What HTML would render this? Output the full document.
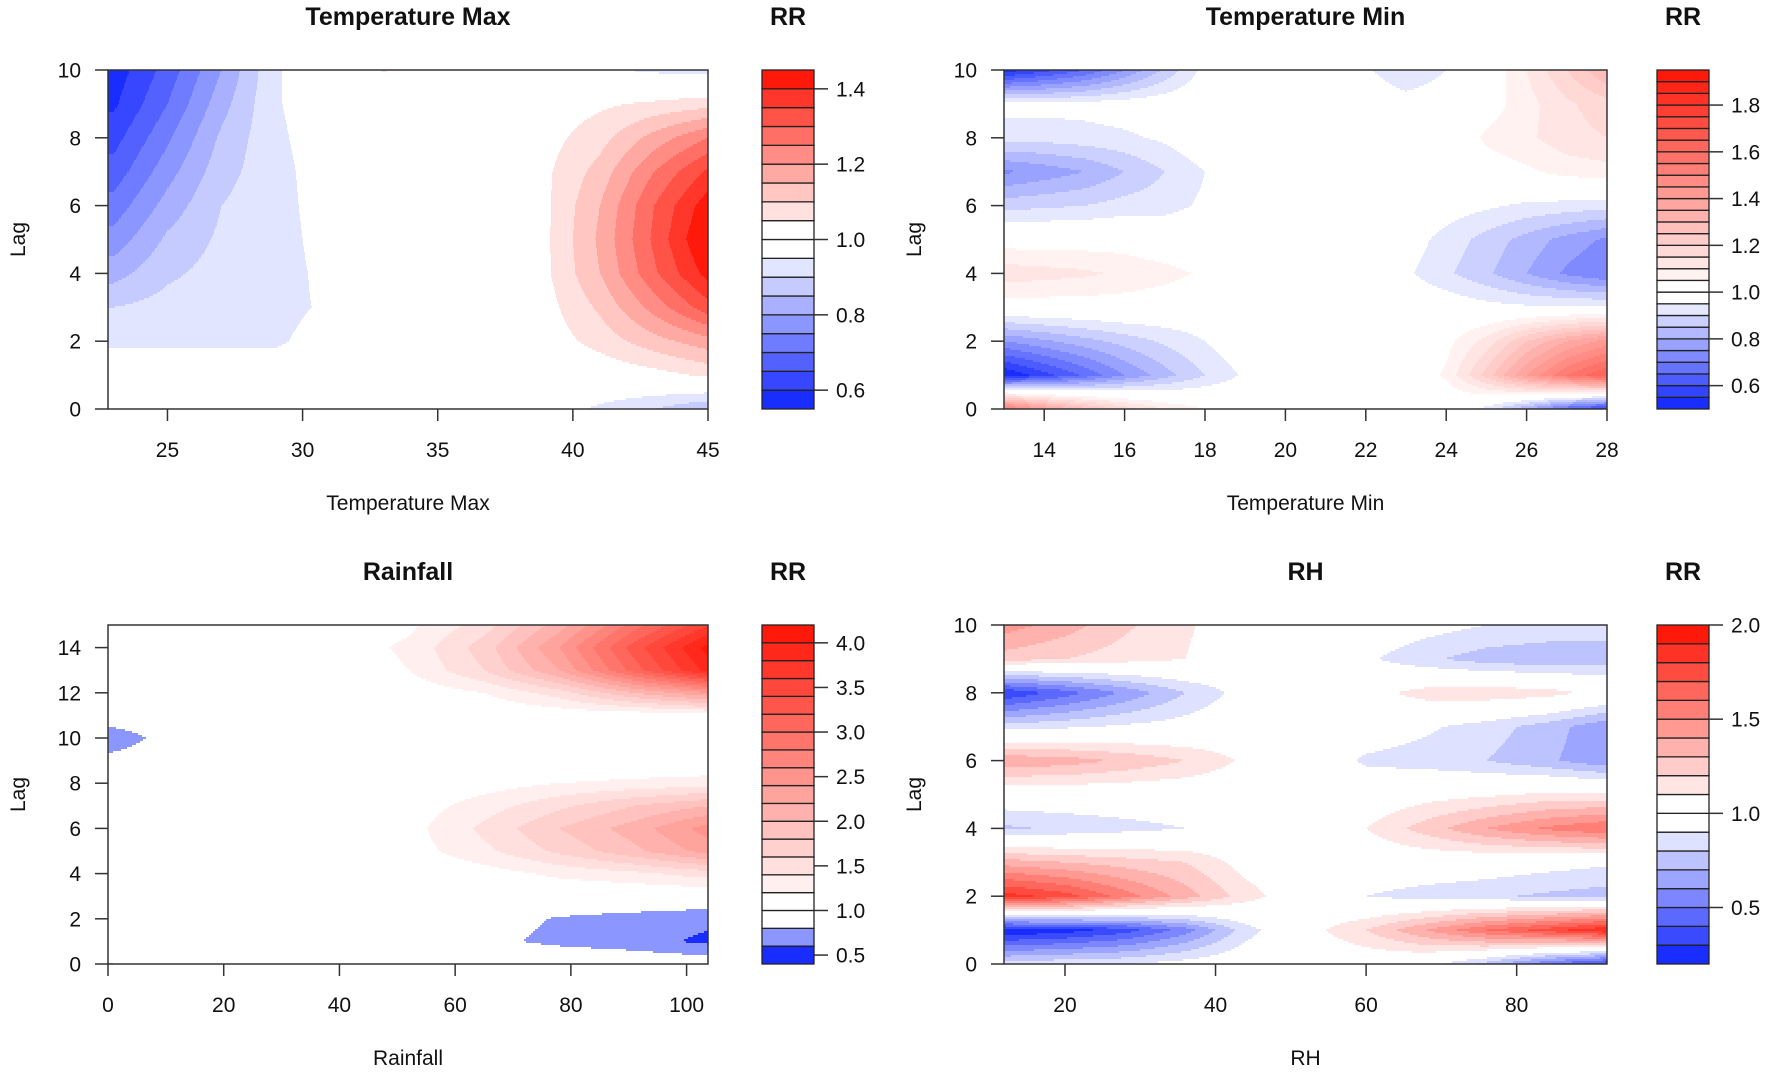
<!DOCTYPE html>
<html><head><meta charset="utf-8">
<style>
html,body{margin:0;padding:0;background:#fff;}
svg{display:block;font-family:"Liberation Sans",Arial,sans-serif;}
</style></head>
<body>
<svg id="chart" width="1772" height="1072" viewBox="0 0 1772 1072" xmlns="http://www.w3.org/2000/svg"></svg>
<script>
// ---------- DATA ----------
const tmaxX = [23,25,27,29,31,33,35,37,39,41,43,45];
const tmaxLag = [0,1,2,3,4,5,6,7,8,9,10];
const tmaxRR = [
 [1.0,1.0,1.0,1.0,1.0,1.0,1.0,1.0,0.98,0.94,0.90,0.85],
 [0.97,0.97,0.97,0.97,0.98,1.0,1.0,1.0,1.0,1.01,1.03,1.06],
 [0.945,0.945,0.945,0.945,0.965,1.0,1.0,1.0,1.02,1.07,1.13,1.18],
 [0.90,0.92,0.93,0.94,0.955,1.0,1.0,1.0,1.03,1.11,1.22,1.33],
 [0.83,0.89,0.92,0.935,0.96,1.0,1.0,1.0,1.04,1.15,1.29,1.42],
 [0.77,0.86,0.91,0.935,0.965,1.0,1.0,1.0,1.04,1.16,1.31,1.46],
 [0.72,0.82,0.90,0.935,0.97,1.0,1.0,1.0,1.04,1.15,1.30,1.43],
 [0.67,0.78,0.88,0.935,0.975,1.0,1.0,1.0,1.04,1.12,1.25,1.36],
 [0.63,0.74,0.86,0.94,0.98,1.0,1.0,1.0,1.03,1.08,1.17,1.25],
 [0.59,0.70,0.83,0.945,0.985,1.0,1.0,1.0,1.02,1.04,1.06,1.08],
 [0.57,0.67,0.80,0.945,0.99,1.055,1.0,1.0,0.99,0.96,0.94,0.93]
];
const tmaxLevels = [0.55,0.6,0.65,0.7,0.75,0.8,0.85,0.9,0.95,1.0,1.05,1.1,1.15,1.2,1.25,1.3,1.35,1.4,1.45];
const tmaxTicksX = [25,30,35,40,45];
const tmaxTicksY = [0,2,4,6,8,10];
const tmaxCbTicks = [0.6,0.8,1.0,1.2,1.4];

const tminX = [13,14,15,16,17,18,19,20,21,22,23,24,25,26,27,28];
const tminLag = [0,1,2,3,4,5,6,7,8,9,10];
const tminRR = [
 [1.55,1.40,1.28,1.18,1.10,1.05,1.02,1.0,1.0,1.0,1.0,0.99,0.93,0.80,0.65,0.55],
 [0.50,0.58,0.66,0.75,0.83,0.90,0.96,1.0,1.0,1.0,1.0,1.06,1.22,1.40,1.55,1.65],
 [0.75,0.79,0.83,0.87,0.91,0.95,1.0,1.0,1.0,1.0,1.0,1.03,1.12,1.25,1.35,1.42],
 [1.02,1.02,1.02,1.02,1.01,1.0,1.0,1.0,1.0,1.0,1.0,0.99,0.97,0.96,0.96,0.96],
 [1.13,1.12,1.11,1.09,1.07,1.04,1.0,1.0,1.0,1.0,0.96,0.91,0.86,0.80,0.74,0.70],
 [1.02,1.02,1.02,1.02,1.0,1.0,1.0,1.0,1.0,1.0,0.98,0.93,0.88,0.83,0.78,0.74],
 [0.88,0.89,0.90,0.92,0.93,0.96,1.0,1.0,1.0,1.0,1.0,0.98,0.96,0.94,0.93,0.92],
 [0.74,0.77,0.80,0.85,0.90,0.95,1.0,1.0,1.0,1.0,1.0,1.0,1.02,1.04,1.07,1.08],
 [0.92,0.92,0.93,0.94,0.96,1.0,1.0,1.0,1.0,1.0,1.0,1.0,1.06,1.09,1.13,1.15],
 [0.97,0.97,0.97,0.98,0.99,1.0,1.0,1.0,1.0,1.0,0.98,0.99,1.02,1.08,1.14,1.18],
 [0.52,0.58,0.65,0.75,0.86,0.97,1.0,1.0,1.0,0.96,0.90,0.95,1.0,1.1,1.2,1.3]
];
const tminLevels = [0.5,0.55,0.6,0.65,0.7,0.75,0.8,0.85,0.9,0.95,1.0,1.05,1.1,1.15,1.2,1.25,1.3,1.35,1.4,1.45,1.5,1.55,1.6,1.65,1.7,1.75,1.8,1.85,1.9,1.95];
const tminTicksX = [14,16,18,20,22,24,26,28];
const tminTicksY = [0,2,4,6,8,10];
const tminCbTicks = [0.6,0.8,1.0,1.2,1.4,1.6,1.8];

const rainX = [0,13,26,39,52,65,78,91,104];
const rainLag = [0,1,2,3,4,5,6,7,8,9,10,11,12,13,14,15];
const rainRR = [
 [0.78,1,1,1,1,1,1.0,0.98,0.95],
 [1,1,1,1,1,0.85,0.75,0.68,0.55],
 [1,1,1,1,1,0.9,0.78,0.72,0.65],
 [1,1,1,1,1,1.0,1.0,1.0,1.0],
 [1,1,1,1,1.0,1.1,1.25,1.35,1.5],
 [1,1,1,1,1.1,1.35,1.65,1.95,2.3],
 [1,1,1,1,1.12,1.45,1.8,2.1,2.5],
 [1,1,1,1,1.08,1.3,1.55,1.8,2.0],
 [1,1,1,1,1.0,1.1,1.2,1.25,1.3],
 [0.9,1,1,1,1,1,1,1,1],
 [0.6,1,1,1,1,1,1,1,1],
 [1,1,1,1,1,1.0,1.05,1.05,1.1],
 [1,1,1,1,1.05,1.2,1.5,2.0,2.4],
 [1,1,1,1.02,1.2,1.6,2.2,3.1,3.9],
 [1,1,1,1.05,1.25,1.7,2.4,3.3,4.1],
 [1,1,1,1.02,1.15,1.5,2.1,2.9,3.6]
];
const rainLevels = [0.4,0.6,0.8,1.0,1.2,1.4,1.6,1.8,2.0,2.2,2.4,2.6,2.8,3.0,3.2,3.4,3.6,3.8,4.0,4.2];
const rainTicksX = [0,20,40,60,80,100];
const rainTicksY = [0,2,4,6,8,10,12,14];
const rainCbTicks = [0.5,1.0,1.5,2.0,2.5,3.0,3.5,4.0];

const rhX = [12,20,28,36,44,52,60,68,76,84,92];
const rhLag = [0,1,2,3,4,5,6,7,8,9,10];
const rhRR = [
 [0.85,0.88,0.9,0.95,1.0,1.0,1.0,0.95,0.75,0.5,0.3],
 [0.2,0.25,0.35,0.55,0.85,1.05,1.2,1.4,1.6,1.75,1.9],
 [1.85,1.75,1.55,1.35,1.15,1.0,0.9,0.85,0.82,0.78,0.75],
 [1.35,1.3,1.25,1.2,1.05,1.0,1.0,1.0,0.98,0.95,0.92],
 [0.78,0.82,0.86,0.9,1.0,1.0,1.1,1.25,1.4,1.52,1.6],
 [1.0,1.0,1.0,1.0,1.0,1.0,1.0,1.05,1.08,1.12,1.12],
 [1.38,1.35,1.28,1.2,1.08,1.0,0.88,0.85,0.8,0.72,0.62],
 [0.85,0.88,0.92,0.95,1.0,1.0,0.98,0.92,0.85,0.75,0.62],
 [0.3,0.45,0.62,0.8,0.95,1.0,1.05,1.15,1.17,1.15,1.05],
 [1.25,1.2,1.15,1.1,1.0,1.0,0.92,0.82,0.75,0.72,0.75],
 [1.45,1.35,1.22,1.12,1.0,1.0,1.0,0.95,0.9,0.88,0.85]
];
const rhLevels = [0.2,0.3,0.4,0.5,0.6,0.7,0.8,0.9,1.0,1.1,1.2,1.3,1.4,1.5,1.6,1.7,1.8,1.9,2.0];
const rhTicksX = [20,40,60,80];
const rhTicksY = [0,2,4,6,8,10];
const rhCbTicks = [0.5,1.0,1.5,2.0];

// ---------- LAYOUT ----------
const panels = [
 {key:'temperature-max', title:'Temperature Max', xlab:'Temperature Max', px0:108, px1:708, py0:70, py1:409, xmin:22.8, xmax:45, ymin:0, ymax:10,
  xs:tmaxX, lags:tmaxLag, z:tmaxRR, levels:tmaxLevels, tx:tmaxTicksX, ty:tmaxTicksY, cbt:tmaxCbTicks, cbx:762, dec:1},
 {key:'temperature-min', title:'Temperature Min', xlab:'Temperature Min', px0:1004, px1:1607, py0:70, py1:409, xmin:13, xmax:28, ymin:0, ymax:10,
  xs:tminX, lags:tminLag, z:tminRR, levels:tminLevels, tx:tminTicksX, ty:tminTicksY, cbt:tminCbTicks, cbx:1657, dec:1},
 {key:'rainfall', title:'Rainfall', xlab:'Rainfall', px0:108, px1:708, py0:625, py1:964, xmin:0, xmax:103.7, ymin:0, ymax:15,
  xs:rainX, lags:rainLag, z:rainRR, levels:rainLevels, tx:rainTicksX, ty:rainTicksY, cbt:rainCbTicks, cbx:762, dec:1},
 {key:'rh', title:'RH', xlab:'RH', px0:1004, px1:1607, py0:625, py1:964, xmin:11.9, xmax:92, ymin:0, ymax:10,
  xs:rhX, lags:rhLag, z:rhRR, levels:rhLevels, tx:rhTicksX, ty:rhTicksY, cbt:rhCbTicks, cbx:1657, dec:1}
];

const NS = 'http://www.w3.org/2000/svg';
const svg = document.getElementById('chart');
function mk(tag, attrs, parent){
  const e = document.createElementNS(NS, tag);
  for (const k in attrs) e.setAttribute(k, attrs[k]);
  (parent||svg).appendChild(e);
  return e;
}
const BLUE=[25,45,255], RED=[255,25,10];
function bandColors(levels){
  const n = levels.length-1, eps=1e-9;
  const cols=[]; let nb=0, nr=0;
  const kind=[];
  for(let k=0;k<n;k++){
    const lo=levels[k], hi=levels[k+1];
    if (Math.abs(lo-1)<eps || Math.abs(hi-1)<eps) kind.push('w');
    else if (hi<1) {kind.push('b'); nb++;}
    else {kind.push('r'); nr++;}
  }
  for(let k=0;k<n;k++){
    if(kind[k]==='w'){cols.push('rgb(255,255,255)');continue;}
    let t, c;
    if(kind[k]==='b'){ const lastB = nb-1; t=(lastB-k+1)/nb; c=BLUE; }
    else { const firstR = n-nr; t=(k-firstR+1)/nr; c=RED; }
    const m=[0,1,2].map(i=>Math.round(255+(c[i]-255)*t));
    cols.push('rgb('+m.join(',')+')');
  }
  return cols;
}
function interp(p, xv, yv){
  const xs=p.xs, ls=p.lags, z=p.z;
  let i=0; while(i<xs.length-2 && xv>xs[i+1]) i++;
  let j=0; while(j<ls.length-2 && yv>ls[j+1]) j++;
  let tx=(xv-xs[i])/(xs[i+1]-xs[i]); tx=Math.max(0,Math.min(1,tx));
  let ty=(yv-ls[j])/(ls[j+1]-ls[j]); ty=Math.max(0,Math.min(1,ty));
  const a=z[j][i], b=z[j][i+1], c=z[j+1][i], d=z[j+1][i+1];
  return (a*(1-tx)+b*tx)*(1-ty)+(c*(1-tx)+d*tx)*ty;
}
function bandOf(levels,v){
  const n=levels.length-1;
  if(v<=levels[0]) return 0;
  if(v>=levels[n]) return n-1;
  for(let k=0;k<n;k++) if(v<levels[k+1]) return k;
  return n-1;
}

panels.forEach(p=>{
  const g = mk('g',{});
  
  
  const sx = v => p.px0 + (v-p.xmin)/(p.xmax-p.xmin)*(p.px1-p.px0);
  const sy = v => p.py1 - (v-p.ymin)/(p.ymax-p.ymin)*(p.py1-p.py0);
  const ix = px => p.xmin + (px-p.px0)/(p.px1-p.px0)*(p.xmax-p.xmin);
  const iy = py => p.ymin + (p.py1-py)/(p.py1-p.py0)*(p.ymax-p.ymin);
  const cols = bandColors(p.levels);

  const fill = mk('g',{'shape-rendering':'crispEdges'},g);
  
  
  const DY=2;
  for(let py=p.py0; py<p.py1; py+=DY){
    const h=Math.min(DY,p.py1-py);
    const lag=iy(py+h/2);
    let runStart=p.px0, runBand=bandOf(p.levels, interp(p, ix(p.px0+0.5), lag));
    for(let px=p.px0+1; px<=p.px1; px++){
      const b = px<p.px1 ? bandOf(p.levels, interp(p, ix(px+0.5), lag)) : -1;
      if(b!==runBand){
        if(cols[runBand]!=='rgb(255,255,255)'){
          const r=mk('rect',{x:runStart,y:py,width:px-runStart,height:h,fill:cols[runBand]},fill);
          
          
        }
        runStart=px; runBand=b;
      }
    }
  }
  const box = mk('rect',{x:p.px0,y:p.py0,width:p.px1-p.px0,height:p.py1-p.py0,fill:'none',stroke:'#333','stroke-width':1.5},g);
  
  
  p.tx.forEach(t=>{
    const x=sx(t);
    const l=mk('line',{x1:x,x2:x,y1:p.py1,y2:p.py1+12,stroke:'#333','stroke-width':1.5},g);
    
    
    const tt=mk('text',{x:x,y:p.py1+48,'font-size':21,'text-anchor':'middle',fill:'#111'},g);
    tt.textContent=t;
    
    
  });
  p.ty.forEach(t=>{
    const y=sy(t);
    const l=mk('line',{x1:p.px0-13,x2:p.px0,y1:y,y2:y,stroke:'#333','stroke-width':1.5},g);
    
    
    const tt=mk('text',{x:p.px0-27,y:y+7.5,'font-size':21,'text-anchor':'end',fill:'#111'},g);
    tt.textContent=t;
    
    
  });
  const xl=mk('text',{x:(p.px0+p.px1)/2,y:p.py1+101,'font-size':21,'text-anchor':'middle',fill:'#111'},g);
  xl.textContent=p.xlab;
  
  
  const ycx=p.px0-83, ycy=(p.py0+p.py1)/2;
  const yl=mk('text',{x:ycx,y:ycy,'font-size':21,'text-anchor':'middle',fill:'#111',transform:'rotate(-90 '+ycx+' '+ycy+')'},g);
  yl.textContent='Lag';
  
  
  const ti=mk('text',{x:(p.px0+p.px1)/2,y:p.py0-45,'font-size':25,'font-weight':'bold','text-anchor':'middle',fill:'#111'},g);
  ti.textContent=p.title;
  
  

  const cb = mk('g',{},g);
  
  
  const L=p.levels, cw=52;
  const cy = v => p.py1 - (v-L[0])/(L[L.length-1]-L[0])*(p.py1-p.py0);
  for(let k=0;k<L.length-1;k++){
    const r=mk('rect',{x:p.cbx,y:cy(L[k+1]),width:cw,height:cy(L[k])-cy(L[k+1]),fill:cols[k],stroke:'#222','stroke-width':1.3},cb);
    
    
  }
  p.cbt.forEach(t=>{
    const y=cy(t);
    const l=mk('line',{x1:p.cbx+cw,x2:p.cbx+cw+14,y1:y,y2:y,stroke:'#333','stroke-width':1.5},cb);
    
    
    const tt=mk('text',{x:p.cbx+cw+22,y:y+7.5,'font-size':21,fill:'#111'},cb);
    tt.textContent=t.toFixed(p.dec);
    
    
  });
  const rr=mk('text',{x:p.cbx+cw/2,y:p.py0-45,'font-size':25,'font-weight':'bold','text-anchor':'middle',fill:'#111'},cb);
  rr.textContent='RR';
  
  
});
</script>
</body></html>
